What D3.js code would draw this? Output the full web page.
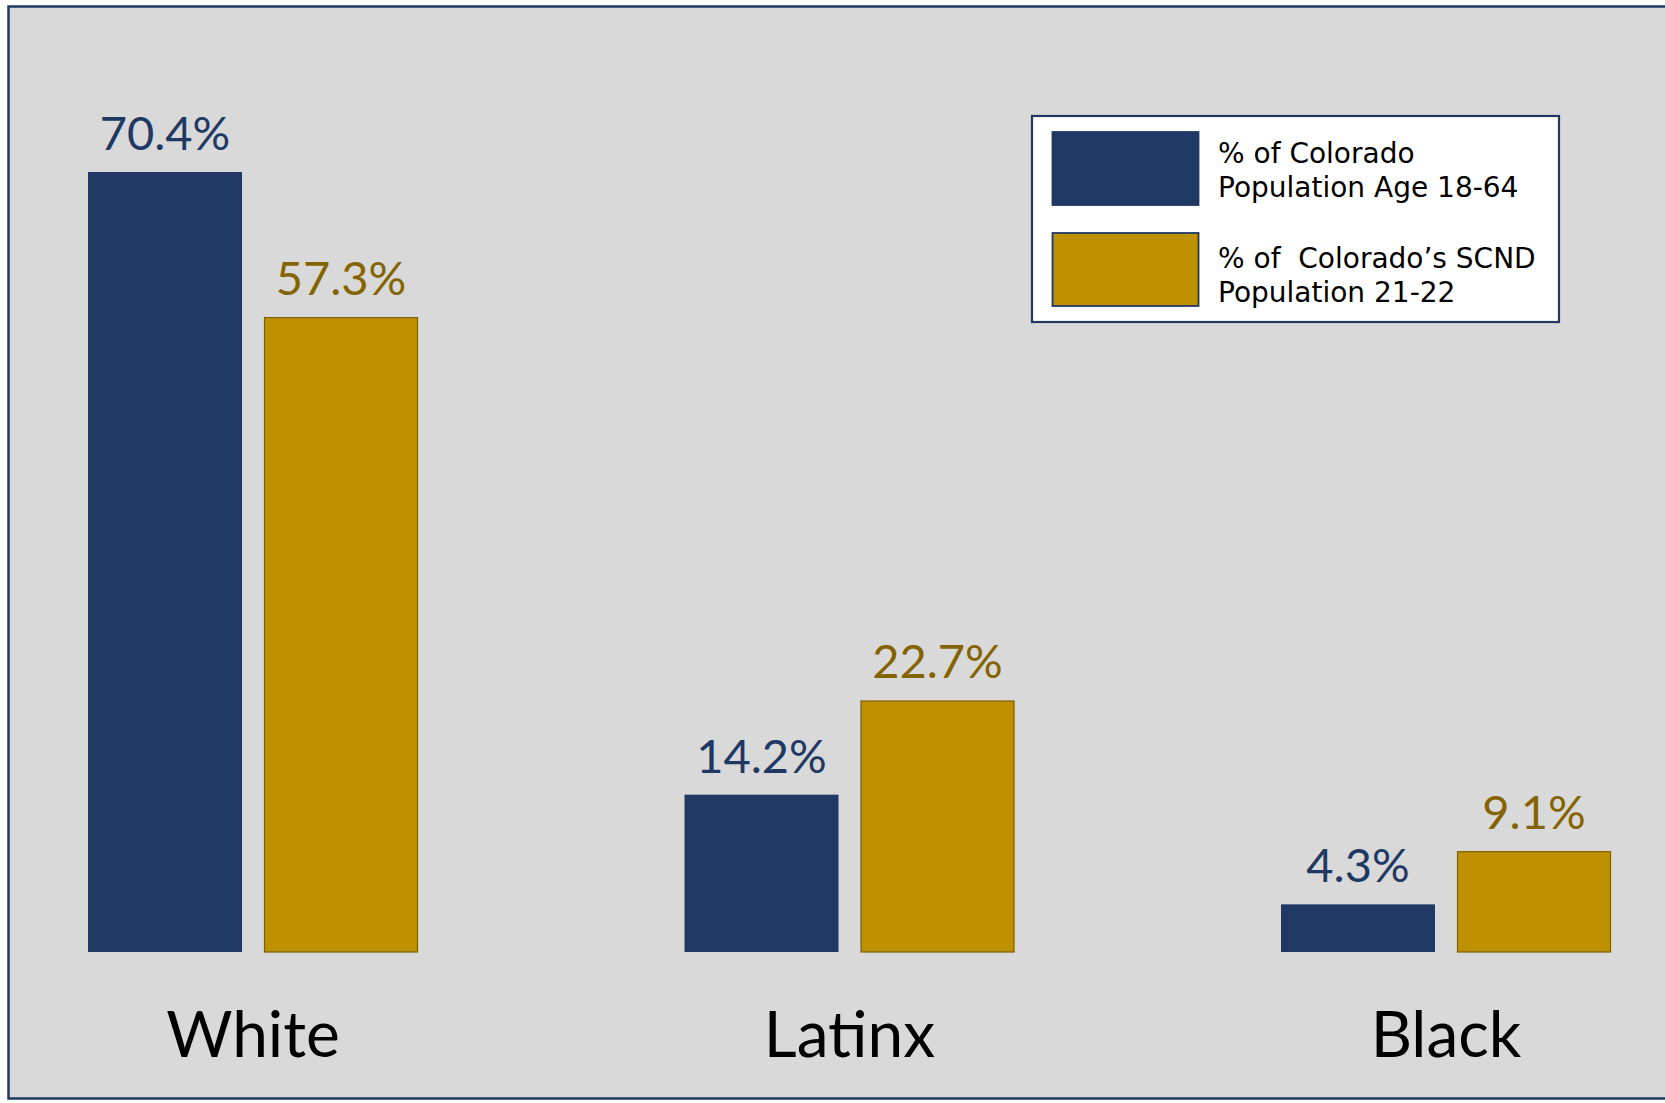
<!DOCTYPE html>
<html>
<head>
<meta charset="utf-8">
<script src="https://cdn.jsdelivr.net/npm/d3@7"></script>
<style>
  html, body { margin: 0; padding: 0; background: #ffffff; }
  svg { display: block; }
</style>
</head>
<body>
<svg id="chart" width="1665" height="1103"></svg>
<script>
// ---- data ----
const categories = ["White", "Latinx", "Black"];
const seriesNames = [
  ["% of Colorado", "Population Age 18-64"],
  ["% of  Colorado\u2019s SCND", "Population 21-22"]
];
const populationAge18to64 = [70.4, 14.2, 4.3];
const scndPopulation21to22 = [57.3, 22.7, 9.1];
const seriesValues = [populationAge18to64, scndPopulation21to22];

// ---- styles ----
const NAVY = "#203864";
const GOLD = "#bf9000";
const GOLD_DARK = "#7f6000";
const GOLD_TEXT = "#846400";
const BG = "#d9d9d9";
const FONT = "Lato, 'Open Sans', sans-serif";
const LEG_FONT = "'DejaVu Sans', Verdana, sans-serif";

const svg = d3.select("#chart");

// frame
svg.append("rect")
  .attr("x", 8.5).attr("y", 6.5)
  .attr("width", 1665).attr("height", 1092)
  .attr("fill", BG)
  .attr("stroke", NAVY).attr("stroke-width", 2.5);

// scales
const baseline = 952;
const y = d3.scaleLinear().domain([0, 70.4]).range([baseline, 172]);
const x0 = d3.scalePoint().domain(categories).range([253, 1446]).padding(0);
const x1 = d3.scaleBand().domain([0, 1]).range([-165, 165]).paddingInner(0.125).paddingOuter(0);

const rows = [];
categories.forEach((c, i) => {
  seriesValues.forEach((vals, s) => rows.push({ cat: c, s, v: vals[i] }));
});

const g = svg.append("g");

g.selectAll("rect.bar")
  .data(rows)
  .join("rect")
  .attr("class", "bar")
  .attr("x", d => x0(d.cat) + x1(d.s) + (d.s === 1 ? 0.5 : 0))
  .attr("y", d => y(d.v) + (d.s === 1 ? 0.5 : 0))
  .attr("width", d => x1.bandwidth() - (d.s === 1 ? 1 : 0))
  .attr("height", d => baseline - y(d.v) - (d.s === 1 ? 0.5 : 0))
  .attr("fill", d => d.s === 0 ? NAVY : GOLD)
  .attr("stroke", d => d.s === 1 ? GOLD_DARK : "none")
  .attr("stroke-width", 1.2);

g.selectAll("text.val")
  .data(rows)
  .join("text")
  .attr("class", "val")
  .attr("x", d => x0(d.cat) + x1(d.s) + x1.bandwidth() / 2)
  .attr("y", d => y(d.v) - 22)
  .attr("text-anchor", "middle")
  .attr("font-family", FONT)
  .attr("font-size", 47)
  .attr("fill", d => d.s === 0 ? NAVY : GOLD_TEXT)
  .text(d => d.v.toFixed(1) + "%");

// category labels
g.selectAll("text.cat")
  .data(categories)
  .join("text")
  .attr("class", "cat")
  .attr("x", d => x0(d))
  .attr("y", 1057)
  .attr("text-anchor", "middle")
  .attr("font-family", FONT)
  .attr("font-size", 64)
  .attr("fill", "#000")
  .text(d => d);

// legend
const leg = svg.append("g");
leg.append("rect")
  .attr("x", 1032).attr("y", 116)
  .attr("width", 527).attr("height", 206)
  .attr("fill", "#ffffff")
  .attr("stroke", NAVY).attr("stroke-width", 2.2);

const legColors = [NAVY, GOLD];
const legTops = [132, 233];
const legBaselines = [[163, 197], [268, 302]];
seriesNames.forEach((lines, i) => {
  leg.append("rect")
    .attr("x", 1052.5).attr("y", legTops[i])
    .attr("width", 146).attr("height", 73)
    .attr("fill", legColors[i])
    .attr("stroke", NAVY).attr("stroke-width", 1.8);
  const t = leg.append("text")
    .attr("font-family", LEG_FONT)
    .attr("font-size", 28)
    .attr("fill", "#000");
  lines.forEach((ln, j) => {
    t.append("tspan")
      .attr("x", 1218)
      .attr("y", legBaselines[i][j])
      .attr("xml:space", "preserve")
      .style("white-space", "pre")
      .text(ln);
  });
});
</script>
</body>
</html>
